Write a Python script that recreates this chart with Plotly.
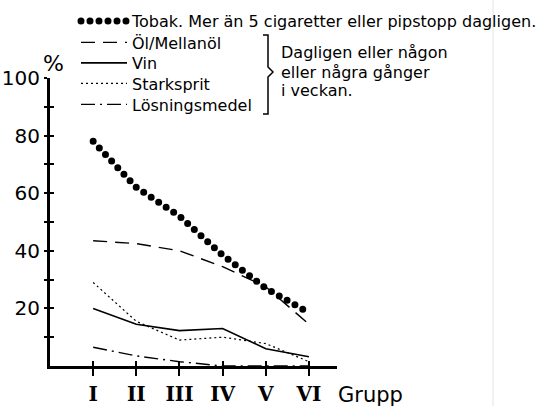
import plotly.graph_objects as go

# ---- data ----
groups = ["I", "II", "III", "IV", "V", "VI"]
tobak = [78, 62, 52, 38.5, 27, 18.5]
ol_mellanol = [43.5, 42.5, 40, 34.5, 27.5, 14.5]
vin = [20, 14.5, 12.3, 13, 6, 3.2]
starksprit = [29, 15.5, 9, 10, 7.8, 1.5]
losningsmedel = [6.5, 3.5, 1.5, 0, 0, 0]

y_tickvals = [10, 20, 30, 40, 50, 60, 70, 80, 90, 100]
y_ticktext = ["", "20", "", "40", "", "60", "", "80", "", "100"]

series_names = [
    "Tobak. Mer än 5 cigaretter eller pipstopp dagligen.",
    "Öl/Mellanöl",
    "Vin",
    "Starksprit",
    "Lösningsmedel",
]
group_lines = ["Dagligen eller någon", "eller några gånger", "i veckan."]
x_title = "Grupp"

W, H = 551, 406
ML, MR, MT, MB = 50, 214, 78, 40
PW, PH = W - ML - MR, H - MT - MB


def px(x):
    return (x - ML) / PW


def py(y):
    return (H - MB - y) / PH


FONT = "DejaVu Sans"
TXT = 16

styles = [
    dict(color="black", width=7, dash="0px,9px"),
    dict(color="black", width=1.4, dash="14px,8px"),
    dict(color="black", width=1.6),
    dict(color="black", width=1.2, dash="2px,3px"),
    dict(color="black", width=1.4, dash="14px,5px,2px,5px"),
]
legend_rows = [21, 42.5, 63, 83.5, 104.5]
legend_ids = ["legend", "legend2", "legend3", "legend4", "legend5"]
group_rows = [53, 72, 91]

fig = go.Figure()
xs = list(range(len(groups)))
for vals, name, st, lid in zip([tobak, ol_mellanol, vin, starksprit, losningsmedel],
                               series_names, styles, legend_ids):
    fig.add_trace(go.Scatter(x=xs, y=vals, mode="lines", name=name, line=st,
                             legend=lid))
# helper (empty) trace for the inner half of the crossing ticks
fig.add_trace(go.Scatter(x=[], y=[], xaxis="x2", yaxis="y2", showlegend=False))

common = dict(showgrid=False, zeroline=False, linecolor="black", linewidth=3,
              tickcolor="black", tickwidth=2, automargin=False)
layout_legends = {}
for lid, row in zip(legend_ids, legend_rows):
    layout_legends[lid] = dict(x=px(76), y=py(row), xanchor="left", yanchor="middle",
                               font=dict(family=FONT, size=TXT, color="black"),
                               bgcolor="rgba(0,0,0,0)", itemwidth=46,
                               borderwidth=0)

fig.update_layout(
    width=W, height=H,
    margin=dict(l=ML, r=MR, t=MT, b=MB, autoexpand=False),
    paper_bgcolor="white", plot_bgcolor="white",
    font=dict(family=FONT, color="black"),
    xaxis=dict(range=[-1, 5.65], tickvals=xs, ticktext=groups, ticks="outside",
               ticklen=7, showline=True,
               tickfont=dict(family="DejaVu Serif", size=20, color="black",
                             weight="bold"),
               ticklabelstandoff=1, **common),
    yaxis=dict(range=[0, 100], tickvals=y_tickvals, ticktext=y_ticktext,
               ticks="outside", ticklen=3, showline=True,
               tickfont=dict(family=FONT, size=20, color="black"), **common),
    xaxis2=dict(range=[-1, 5.65], overlaying="x", anchor="y2", side="bottom",
                tickvals=xs, ticks="inside", ticklen=5, showticklabels=False,
                showgrid=False, zeroline=False, showline=False,
                tickcolor="black", tickwidth=2, automargin=False),
    yaxis2=dict(range=[0, 100], overlaying="y", anchor="x2", side="left",
                tickvals=y_tickvals, ticks="inside", ticklen=4,
                showticklabels=False, showgrid=False, zeroline=False,
                showline=False, tickcolor="black", tickwidth=2, automargin=False),
    showlegend=True,
    **layout_legends,
)

fig.add_annotation(text="%", x=px(53), y=py(63), xref="paper", yref="paper",
                   xanchor="center", yanchor="middle", showarrow=False,
                   font=dict(family=FONT, size=22, color="black"))
for line, row in zip(group_lines, group_rows):
    fig.add_annotation(text=line, x=px(279), y=py(row), xref="paper", yref="paper",
                       xanchor="left", yanchor="middle", align="left", showarrow=False,
                       font=dict(family=FONT, size=TXT, color="black"))
fig.add_annotation(text=x_title, x=px(336), y=py(395), xref="paper", yref="paper",
                   xanchor="left", yanchor="middle", showarrow=False,
                   font=dict(family=FONT, size=21, color="black"))

# bracket grouping the drink entries
bracket = (f"M {px(263)},{py(35)} L {px(268)},{py(35)} L {px(268)},{py(67)} "
           f"L {px(273)},{py(72)} L {px(268)},{py(77)} L {px(268)},{py(114)} "
           f"L {px(263)},{py(114)}")
fig.add_shape(type="path", path=bracket, xref="paper", yref="paper",
              line=dict(color="black", width=1.5))
# faint scan border line
fig.add_shape(type="line", x0=px(493), x1=px(493), y0=py(0), y1=py(406),
              xref="paper", yref="paper", line=dict(color="#e4e4e4", width=1))

js = """
document.body.style.margin = '0';
var gd = document.getElementById('{plot_id}');
function roundDots(){
  gd.querySelectorAll('path').forEach(function(p){
    var d = (p.style.strokeDasharray || '').replace(/\\s/g,'');
    if(d.indexOf('0px,9px') === 0 || d.indexOf('0,9') === 0){ p.style.strokeLinecap = 'round'; }
  });
}
roundDots();
if (gd.on) { gd.on('plotly_afterplot', roundDots); }
"""
fig.write_html("out.html", post_script=js, config={"displayModeBar": False})
